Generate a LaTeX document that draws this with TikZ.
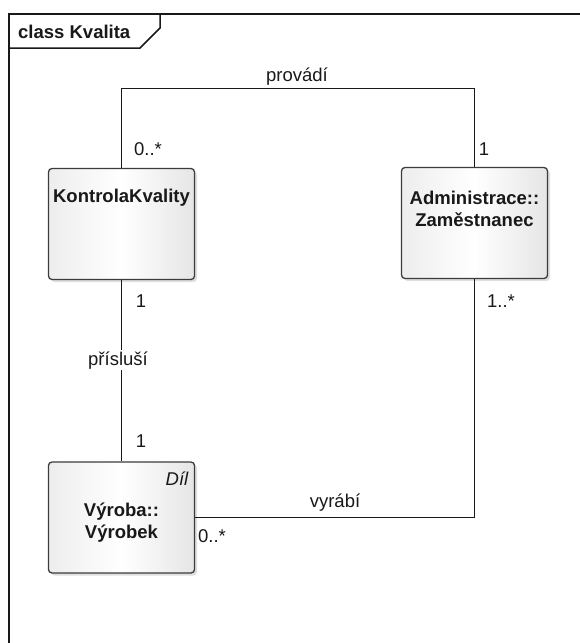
\documentclass[tikz,border=0pt]{standalone}
\usepackage{fontspec}
\setmainfont{Liberation Sans}
\usetikzlibrary{shadows}
\definecolor{boxedge}{RGB}{60,60,60}
\definecolor{ink}{RGB}{25,25,25}
\begin{document}
\begin{tikzpicture}[x=1pt,y=-1pt,
  every node/.style={text=ink},
  classbox/.style={draw=boxedge, line width=1.3pt, rounded corners=3.5pt,
    minimum width=146pt, minimum height=111pt, inner sep=0pt,
    left color=gray!14, right color=gray!20, middle color=white,
    drop shadow={shadow xshift=2.5pt, shadow yshift=-2.5pt, opacity=0.25, fill=gray}},
  cname/.style={font=\fontsize{18.5}{22}\selectfont\bfseries, align=center, anchor=base, inner sep=0pt},
  lbl/.style={font=\fontsize{18.5}{22}\selectfont, anchor=base, inner sep=0pt},
  assoc/.style={draw=ink, line width=1pt},
  frameline/.style={draw=ink, line width=1.5pt}]
\useasboundingbox (0,0) rectangle (580,643);
\fill[white] (0,0) rectangle (580,643);

% diagram frame with its name tab
\draw[frameline] (9,660) -- (9,14) -- (600,14);
\draw[frameline] (9,48) -- (140,48) -- (160,28) -- (160,14);
\node[font=\fontsize{18.5}{22}\selectfont\bfseries, anchor=base west, inner sep=0pt] (title) at (18,38) {class Kvalita};

% classes
\node[classbox] (kk)  at (121.5,224) {};
\node[classbox] (adm) at (474.5,223) {};
\node[classbox] (vyr) at (121.5,517.5) {};

% class names (base anchor sits on the last line)
\node[cname] (kkname)  at (121.5,202) {KontrolaKvality};
\node[cname] (admname) at (474.5,226) {Administrace::\\Zaměstnanec};
\node[cname] (vyrname) at (121.5,538) {Výroba::\\Výrobek};
\node[lbl, font=\fontsize{18.5}{22}\selectfont\itshape] (vyrstereo) at (177,485) {Díl};

% associations
\coordinate (pvturn) at (121.5,88);
\draw[assoc] (kk.north) |- (pvturn -| adm.north) -- (adm.north);
\draw[assoc] (vyr.east) -| (adm.south);
\draw[assoc] (kk.south) -- (vyr.north);

% association names and multiplicities
\node[lbl] (provadi) at (297,81) {provádí};
\node[lbl, fill=white, inner sep=1pt] (prislusi) at (118,365) {přísluší};
\node[lbl] (vyrabi) at (335,507) {vyrábí};

\node[lbl] (m1) at (148,155) {0..*};
\node[lbl] (m2) at (484,155) {1};
\node[lbl] (m3) at (141,307) {1};
\node[lbl] (m4) at (141,447) {1};
\node[lbl] (m5) at (501,307) {1..*};
\node[lbl] (m6) at (212,542) {0..*};
\end{tikzpicture}
\end{document}
